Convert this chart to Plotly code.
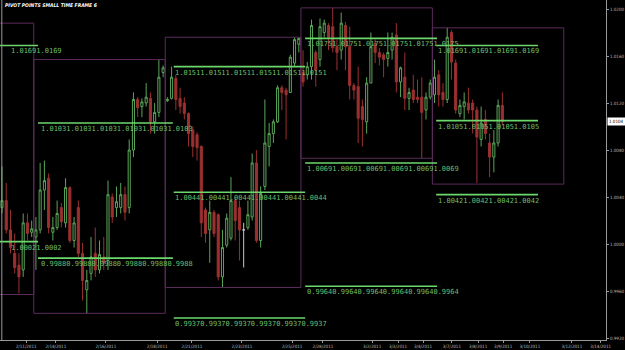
import plotly.graph_objects as go

# ---- 4-hour candles (bar index 0..118) ----
opens = [
    1.0031, 1.0037, 1.0012, 0.9992, 0.9982, 0.9978, 1.0018, 1.0010,
    1.0006, 1.0012, 1.0046, 1.0056, 1.0010, 1.0014, 1.0031, 1.0018, 1.0048, 1.0003,
    1.0031, 0.9992, 0.9961, 0.9975, 0.9992, 0.9978, 0.9989, 0.9986, 1.0040, 1.0031,
    1.0031, 1.0042, 1.0031, 1.0080, 1.0123, 1.0117, 1.0120, 1.0124, 1.0104, 1.0112, 1.0146,
    1.0122, 1.0124, 1.0141, 1.0124, 1.0120, 1.0111, 1.0097, 1.0093, 1.0083, 1.0029,
    1.0012, 1.0027, 1.0025, 0.9972, 0.9999, 1.0005, 1.0037, 1.0031, 1.0012, 1.0014,
    1.0023, 1.0069, 1.0003, 1.0049, 1.0083, 1.0094, 1.0104, 1.0133, 1.0131, 1.0129, 1.0154, 1.0170,
    1.0146, 1.0144, 1.0151, 1.0163, 1.0157, 1.0180, 1.0186, 1.0185, 1.0168, 1.0165,
    1.0186, 1.0168, 1.0135, 1.0134, 1.0117, 1.0104, 1.0137, 1.0171, 1.0163, 1.0161,
    1.0158, 1.0165, 1.0178, 1.0138, 1.0142, 1.0124, 1.0131, 1.0125, 1.0125, 1.0114, 1.0125,
    1.0127, 1.0144, 1.0129, 1.0123, 1.0180, 1.0154, 1.0111, 1.0117, 1.0120, 1.0120,
    1.0114, 1.0089, 1.0106, 1.0086, 1.0074, 1.0086, 1.0118,
]
closes = [
    1.0037, 1.0012, 0.9997, 0.9980, 0.9972, 1.0018, 1.0009, 1.0013,
    1.0012, 1.0046, 1.0054, 1.0014, 1.0014, 1.0026, 1.0019, 1.0048, 1.0003, 1.0018,
    0.9992, 0.9969, 0.9969, 0.9989, 0.9978, 0.9991, 0.9984, 1.0042, 1.0023, 1.0036,
    1.0042, 1.0027, 1.0080, 1.0123, 1.0116, 1.0121, 1.0125, 1.0104, 1.0112, 1.0142, 1.0150,
    1.0123, 1.0142, 1.0123, 1.0117, 1.0111, 1.0094, 1.0083, 1.0082, 1.0018, 1.0009,
    1.0027, 1.0009, 0.9972, 0.9997, 1.0022, 1.0037, 1.0020, 1.0012, 1.0012, 1.0025,
    1.0069, 1.0003, 1.0043, 1.0086, 1.0094, 1.0104, 1.0133, 1.0129, 1.0127, 1.0159, 1.0174, 1.0175,
    1.0138, 1.0151, 1.0186, 1.0148, 1.0185, 1.0188, 1.0176, 1.0167, 1.0163, 1.0188,
    1.0168, 1.0135, 1.0131, 1.0107, 1.0106, 1.0137, 1.0168, 1.0163, 1.0159, 1.0157,
    1.0163, 1.0176, 1.0138, 1.0150, 1.0124, 1.0129, 1.0123, 1.0123, 1.0112, 1.0125, 1.0137,
    1.0142, 1.0127, 1.0123, 1.0176, 1.0155, 1.0114, 1.0118, 1.0121, 1.0114, 1.0114,
    1.0091, 1.0103, 1.0094, 1.0074, 1.0086, 1.0118, 1.0104,
]
highs = [
    1.0066, 1.0052, 1.0029, 1.0009, 0.9992, 1.0026, 1.0026, 1.0020,
    1.0023, 1.0069, 1.0071, 1.0060, 1.0023, 1.0037, 1.0035, 1.0056, 1.0049, 1.0023,
    1.0037, 1.0001, 0.9978, 1.0006, 1.0014, 1.0003, 1.0006, 1.0054, 1.0043, 1.0049,
    1.0052, 1.0049, 1.0089, 1.0129, 1.0125, 1.0124, 1.0137, 1.0129, 1.0120, 1.0157, 1.0152,
    1.0125, 1.0151, 1.0144, 1.0133, 1.0125, 1.0112, 1.0100, 1.0095, 1.0084, 1.0031,
    1.0037, 1.0029, 1.0026, 1.0012, 1.0026, 1.0057, 1.0040, 1.0037, 1.0018, 1.0037,
    1.0077, 1.0080, 1.0049, 1.0123, 1.0103, 1.0106, 1.0135, 1.0135, 1.0133, 1.0161, 1.0176, 1.0176,
    1.0165, 1.0155, 1.0191, 1.0165, 1.0192, 1.0191, 1.0188, 1.0201, 1.0174, 1.0197,
    1.0189, 1.0185, 1.0137, 1.0151, 1.0123, 1.0142, 1.0180, 1.0174, 1.0167, 1.0163,
    1.0180, 1.0180, 1.0188, 1.0151, 1.0163, 1.0133, 1.0144, 1.0140, 1.0142, 1.0129, 1.0140,
    1.0157, 1.0148, 1.0137, 1.0184, 1.0182, 1.0157, 1.0123, 1.0129, 1.0133, 1.0123,
    1.0117, 1.0117, 1.0114, 1.0094, 1.0097, 1.0123, 1.0129,
]
lows = [
    1.0026, 1.0009, 0.9992, 0.9975, 0.9958, 0.9972, 1.0003, 1.0006,
    0.9978, 1.0009, 1.0029, 1.0009, 1.0003, 1.0012, 1.0014, 1.0014, 1.0001, 0.9997,
    0.9989, 0.9952, 0.9941, 0.9969, 0.9972, 0.9975, 0.9978, 0.9978, 1.0018, 1.0023,
    1.0026, 1.0020, 1.0026, 1.0074, 1.0108, 1.0108, 1.0117, 1.0094, 1.0094, 1.0108, 1.0142,
    1.0121, 1.0123, 1.0114, 1.0111, 1.0106, 1.0083, 1.0074, 1.0071, 1.0006, 1.0001,
    0.9984, 1.0006, 0.9969, 0.9963, 0.9997, 1.0003, 1.0003, 0.9986, 0.9980, 1.0012,
    1.0020, 1.0001, 0.9997, 1.0046, 1.0066, 1.0086, 1.0103, 1.0114, 1.0089, 1.0129, 1.0151, 1.0163,
    1.0134, 1.0140, 1.0140, 1.0134, 1.0151, 1.0176, 1.0165, 1.0163, 1.0148, 1.0157,
    1.0148, 1.0123, 1.0123, 1.0086, 1.0083, 1.0094, 1.0137, 1.0154, 1.0152, 1.0142,
    1.0151, 1.0157, 1.0129, 1.0125, 1.0114, 1.0114, 1.0120, 1.0120, 1.0073, 1.0106, 1.0123,
    1.0120, 1.0117, 1.0117, 1.0120, 1.0140, 1.0111, 1.0108, 1.0106, 1.0111, 1.0094,
    1.0052, 1.0083, 1.0089, 1.0057, 1.0061, 1.0083, 1.0101,
]

# ---- weekly range boxes (bar boundaries) ----
week_start = [-6.0, 7.5, 38.5, 70.5, 101.5]
week_end = [7.5, 38.5, 70.5, 101.5, 132.5]
week_high = [1.0188, 1.0157, 1.0176, 1.0201, 1.0184]
week_low = [0.9957, 0.9941, 0.9963, 1.0073, 1.0051]

# ---- pivot levels per week ----
pivot_levels = [
    [1.0169, 1.0002],
    [1.0103, 0.9988],
    [1.0151, 1.0044, 0.9937],
    [1.0175, 1.0069, 0.9964],
    [1.0169, 1.0105, 1.0042],
]
line_from = [-6.0, 8.5, 40.5, 71.5, 102.4]
line_to = [8.5, 40.3, 71.5, 102.6, 126.4]
label_at = [1.9, 9.0, 40.5, 71.6, 102.6]
label_repeats = [2, 6, 6, 6, 4]

# ---- axis labels ----
date_labels = ["2/11/2011", "2/14/2011", "2/16/2011", "2/18/2011", "2/21/2011",
               "2/23/2011", "2/25/2011", "2/28/2011", "3/2/2011", "3/3/2011",
               "3/4/2011", "3/7/2011", "3/8/2011", "3/9/2011", "3/10/2011",
               "3/12/2011", "3/14/2011"]
date_pos = [5.7, 12.7, 24.5, 36.6, 44.8, 56.6, 68.4, 75.7, 87.3, 93.4,
            99.3, 106.1, 112.3, 118.2, 124.5, 134.4, 141.2]
price_ticks = [0.9920, 0.9960, 1.0000, 1.0040, 1.0080, 1.0120, 1.0160, 1.0200]
title_text = "PIVOT POINTS SMALL TIME FRAME 6"

GREEN_C = "#5aa65a"
RED_C = "#9c3030"
BOX_C = "#5c2b5c"
LINE_C = "#6bd86b"
TEXT_C = "#6cbf6c"
AXIS_FONT = "DejaVu Sans Condensed, DejaVu Sans"

idx = list(range(len(opens)))
is_doji = [o == c for o, c in zip(opens, closes)]

fig = go.Figure()

# weekly boxes
for s, e, h, l in zip(week_start, week_end, week_high, week_low):
    fig.add_trace(go.Scatter(x=[s, e, e, s, s], y=[h, h, l, l, h], mode="lines",
                             line=dict(color=BOX_C, width=1), hoverinfo="skip",
                             showlegend=False))

# candles
fig.add_trace(go.Candlestick(
    x=[i for i in idx if not is_doji[i]],
    open=[opens[i] for i in idx if not is_doji[i]],
    high=[highs[i] for i in idx if not is_doji[i]],
    low=[lows[i] for i in idx if not is_doji[i]],
    close=[closes[i] for i in idx if not is_doji[i]],
    increasing=dict(line=dict(color=GREEN_C, width=1), fillcolor="#000000"),
    decreasing=dict(line=dict(color=RED_C, width=1), fillcolor=RED_C),
    whiskerwidth=0, showlegend=False, hoverinfo="skip"))
fig.add_trace(go.Candlestick(
    x=[i for i in idx if is_doji[i]],
    open=[opens[i] for i in idx if is_doji[i]],
    high=[highs[i] for i in idx if is_doji[i]],
    low=[lows[i] for i in idx if is_doji[i]],
    close=[closes[i] for i in idx if is_doji[i]],
    increasing=dict(line=dict(color="#c8c8c8", width=1), fillcolor="#c8c8c8"),
    decreasing=dict(line=dict(color="#c8c8c8", width=1), fillcolor="#c8c8c8"),
    whiskerwidth=0, showlegend=False, hoverinfo="skip"))

# pivot lines + labels
annotations = []
for levels, f, t, la, rep in zip(pivot_levels, line_from, line_to, label_at, label_repeats):
    for v in levels:
        fig.add_trace(go.Scatter(x=[f, t], y=[v, v], mode="lines",
                                 line=dict(color=LINE_C, width=1.6),
                                 hoverinfo="skip", showlegend=False))
        annotations.append(dict(x=la, y=v, xref="x", yref="y", text=f"{v:.4f}" * rep,
                                showarrow=False, xanchor="left", yanchor="top",
                                yshift=-1, borderpad=0,
                                font=dict(family="DejaVu Sans Mono", size=7, color=TEXT_C)))

# title
annotations.append(dict(x=0.006, y=0.996, xref="paper", yref="paper", text=f"<b><i>{title_text}</i></b>",
                        showarrow=False, xanchor="left", yanchor="top", borderpad=0,
                        font=dict(family=AXIS_FONT, size=5, color="#ffffff")))
# current price tag
annotations.append(dict(x=1.0, y=closes[-1], xref="paper", yref="y", text=f"{closes[-1]:.4f}",
                        showarrow=False, xanchor="left", yanchor="middle", xshift=1,
                        bgcolor="#ffffff", borderpad=1,
                        font=dict(family=AXIS_FONT, size=4.5, color="#000000")))

fig.update_layout(
    width=625, height=350,
    margin=dict(l=0, r=19, t=0, b=10),
    paper_bgcolor="#000000", plot_bgcolor="#000000",
    annotations=annotations,
    shapes=[dict(type="line", xref="paper", yref="paper", x0=0.003, x1=0.003, y0=0, y1=1,
                 line=dict(color="#9a9a9a", width=1))],
    xaxis=dict(range=[-0.47, 142.45], showgrid=False, zeroline=False,
               rangeslider=dict(visible=False),
               tickmode="array", tickvals=date_pos, ticktext=date_labels,
               tickfont=dict(family=AXIS_FONT, size=4.5, color="#bbbbbb"),
               showline=True, linecolor="#9a9a9a", linewidth=1,
               ticks="outside", ticklen=2, tickcolor="#9a9a9a", automargin=False),
    yaxis=dict(range=[0.99183, 1.02077], side="right", showgrid=False, zeroline=False,
               tickmode="array", tickvals=price_ticks,
               ticktext=[f"{p:.4f}" for p in price_ticks],
               tickfont=dict(family=AXIS_FONT, size=4.5, color="#bbbbbb"),
               showline=True, linecolor="#9a9a9a", linewidth=1,
               ticks="outside", ticklen=2, tickcolor="#9a9a9a", automargin=False),
)

fig.write_html("out.html")
